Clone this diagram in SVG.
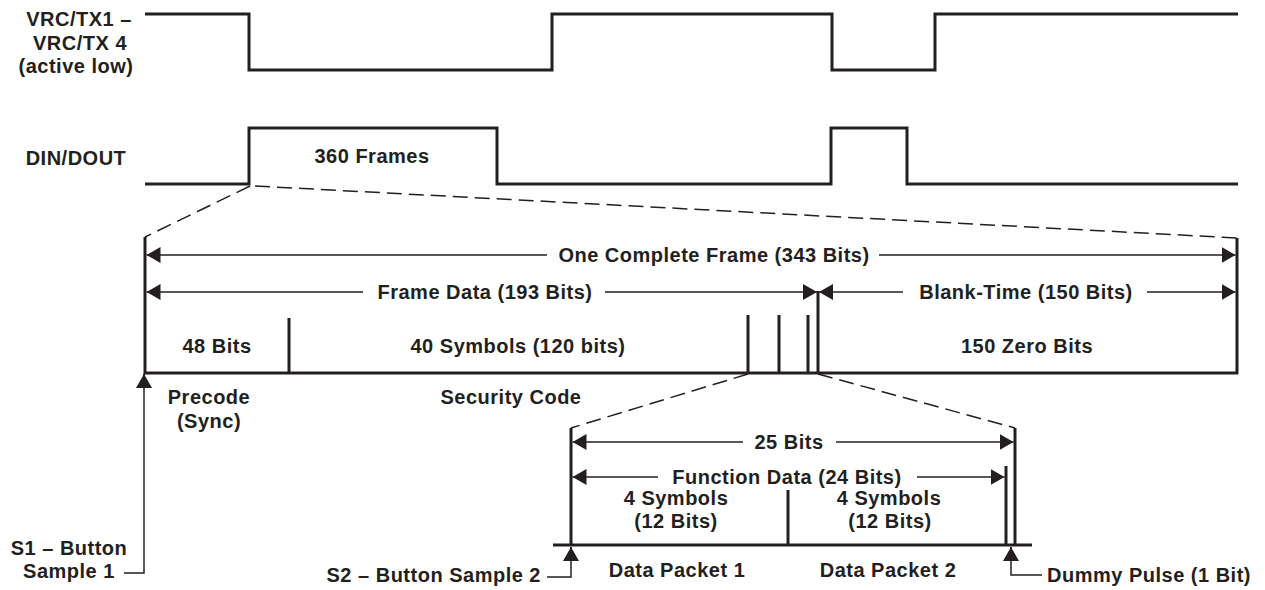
<svg xmlns="http://www.w3.org/2000/svg" width="1265" height="590" viewBox="0 0 1265 590">
<style>
text{font-family:"Liberation Sans",Arial,sans-serif;font-weight:bold;font-size:20px;letter-spacing:0.5px;fill:#231f20}
.m{text-anchor:middle}
.e{text-anchor:end}
.w{fill:none;stroke:#231f20;stroke-width:3;stroke-linejoin:miter}
.v{stroke:#231f20;stroke-width:3;fill:none}
.t{stroke:#231f20;stroke-width:1.5;fill:none}
.d{stroke:#231f20;stroke-width:1.5;fill:none;stroke-dasharray:15 7}
.a{stroke:#231f20;stroke-width:1.5;fill:none;marker-end:url(#ah)}
.s{stroke:#231f20;stroke-width:1.5;fill:none;marker-start:url(#ah)}
</style>
<defs>
<marker id="ah" viewBox="0 0 14 16" refX="14" refY="8" markerWidth="14" markerHeight="16" markerUnits="userSpaceOnUse" orient="auto-start-reverse">
<path d="M0,0 L14,8 L0,16 z" fill="#231f20"/>
</marker>
</defs>
<rect width="1265" height="590" fill="#fff"/>

<g id="vrc">
<text class="m" x="79" y="26">VRC/TX1 –</text>
<text class="m" x="80" y="50">VRC/TX 4</text>
<text class="m" x="76" y="73">(active low)</text>
<polyline class="w" points="145,14 249,14 249,70 552,70 552,14 832,14 832,70 935,70 935,14 1238,14"/>
</g>

<g id="din">
<text class="m" x="76" y="165">DIN/DOUT</text>
<polyline class="w" points="145,184 249,184 249,128 497,128 497,184 831,184 831,128 907,128 907,184 1238,184"/>
<text class="m" x="372" y="163">360 Frames</text>
</g>

<g id="connectors">
<line class="d" x1="250" y1="186" x2="145" y2="237"/>
<line class="d" x1="255" y1="186" x2="1237" y2="238"/>
<line class="d" x1="748" y1="374" x2="571" y2="428"/>
<line class="d" x1="818" y1="374" x2="1015" y2="428"/>
</g>

<g id="frame">
<line class="v" x1="145" y1="237" x2="145" y2="374"/>
<line class="v" x1="1237" y1="238" x2="1237" y2="374"/>
<line class="v" x1="144" y1="373" x2="1238" y2="373"/>
<line class="v" x1="289" y1="318" x2="289" y2="373"/>
<line class="v" x1="748" y1="315" x2="748" y2="373"/>
<line class="v" x1="779" y1="315" x2="779" y2="373"/>
<line class="v" x1="808" y1="315" x2="808" y2="373"/>
<line class="v" x1="818" y1="291" x2="818" y2="373"/>

<line class="s" x1="146.5" y1="255" x2="547" y2="255"/>
<line class="a" x1="879" y1="255" x2="1235.5" y2="255"/>
<text class="m" x="714" y="262">One Complete Frame (343 Bits)</text>

<line class="s" x1="146.5" y1="292" x2="363" y2="292"/>
<line class="a" x1="605" y1="292" x2="817" y2="292"/>
<text class="m" x="485" y="299">Frame Data (193 Bits)</text>

<line class="s" x1="819" y1="292" x2="903" y2="292"/>
<line class="a" x1="1147" y1="292" x2="1235.5" y2="292"/>
<text class="m" x="1026" y="299">Blank-Time (150 Bits)</text>

<text class="m" x="217" y="353">48 Bits</text>
<text class="m" x="518" y="353">40 Symbols (120 bits)</text>
<text class="m" x="1027" y="353">150 Zero Bits</text>

<text class="m" x="209" y="404">Precode</text>
<text class="m" x="209" y="428">(Sync)</text>
<text class="m" x="511" y="404">Security Code</text>
</g>

<g id="s1">
<polyline class="t" points="124,573 144,573 144,386"/>
<line class="a" x1="144" y1="386" x2="144" y2="374" style="stroke-width:2"/>
<text class="m" x="69" y="555">S1 – Button</text>
<text class="m" x="69" y="578">Sample 1</text>
</g>

<g id="packet">
<line class="v" x1="571" y1="428" x2="571" y2="545"/>
<line class="v" x1="1015" y1="428" x2="1015" y2="546"/>
<line class="v" x1="1006" y1="466" x2="1006" y2="545"/>
<line class="v" x1="788" y1="490" x2="788" y2="545"/>
<line class="v" x1="553" y1="545" x2="1032" y2="545"/>

<line class="s" x1="572.5" y1="442" x2="743" y2="442"/>
<line class="a" x1="836" y1="442" x2="1013.5" y2="442"/>
<text class="m" x="789" y="449">25 Bits</text>

<line class="s" x1="572.5" y1="477" x2="658" y2="477"/>
<line class="a" x1="917" y1="477" x2="1004.5" y2="477"/>
<text class="m" x="787" y="484">Function Data (24 Bits)</text>

<text class="m" x="676" y="505">4 Symbols</text>
<text class="m" x="676" y="528">(12 Bits)</text>
<text class="m" x="889" y="505">4 Symbols</text>
<text class="m" x="890" y="528">(12 Bits)</text>

<text class="m" x="677" y="577">Data Packet 1</text>
<text class="m" x="888" y="577">Data Packet 2</text>
</g>

<g id="s2">
<polyline class="t" points="547,577 571,577 571,558"/>
<line class="a" x1="571" y1="560" x2="571" y2="547" style="stroke-width:2"/>
<text class="e" x="541" y="582">S2 – Button Sample 2</text>
</g>

<g id="dummy">
<polyline class="t" points="1042,575 1011,575 1011,558"/>
<line class="a" x1="1011" y1="560" x2="1011" y2="547" style="stroke-width:2"/>
<text x="1047" y="582">Dummy Pulse (1 Bit)</text>
</g>
</svg>
